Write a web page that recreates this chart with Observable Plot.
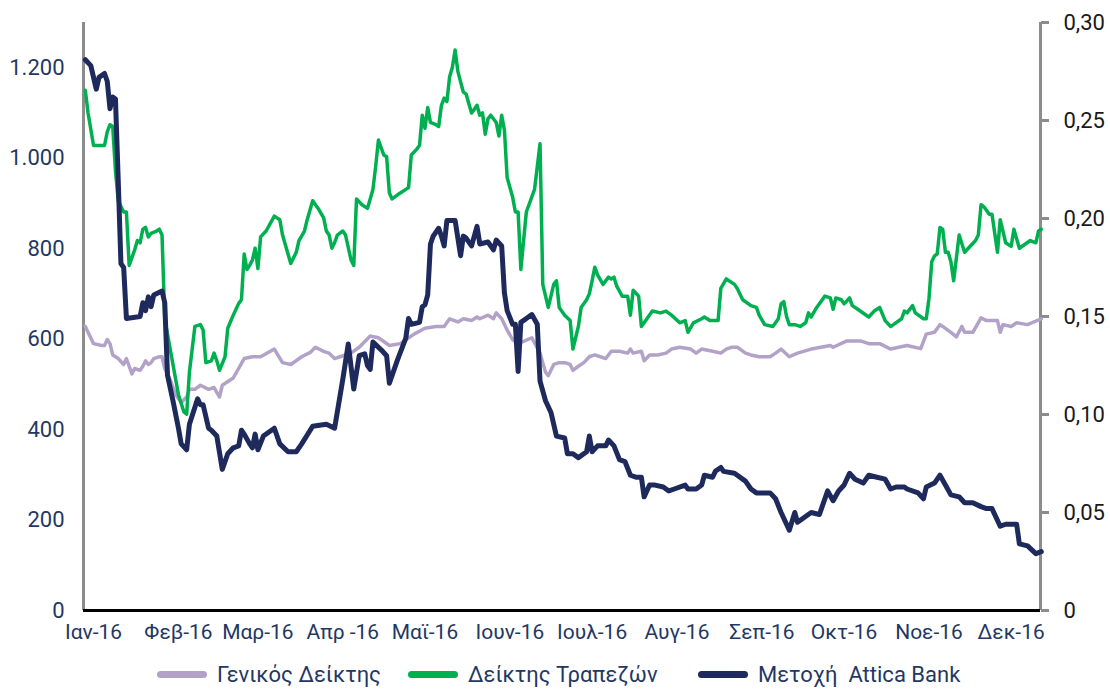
<!DOCTYPE html>
<html>
<head>
<meta charset="utf-8">
<script src="https://cdn.jsdelivr.net/npm/d3@7"></script>
<script src="https://cdn.jsdelivr.net/npm/@observablehq/plot@0.6"></script>
<style>
  html, body { margin: 0; padding: 0; background: #fff; }
  #wrap { position: relative; width: 1110px; height: 689px; overflow: hidden; font-family: Roboto, "Noto Sans", sans-serif; }
  #legend { position: relative; width: 1110px; height: 33px; }
  .item { position: absolute; top: 6px; height: 26px; line-height: 26px; font-size: 22px; color: #1f3864; white-space: pre; }
  .sw { display: inline-block; width: 50px; height: 7px; border-radius: 4px; vertical-align: middle; margin-right: 10px; position: relative; top: -2px; }
</style>
</head>
<body>
<div id="wrap">
  <div id="chart"></div>
  <div id="legend"></div>
</div>
<script>
// Month tick labels (one per month of 2016)
const monthLabels = ["Ιαν-16","Φεβ-16","Μαρ-16","Απρ -16","Μαϊ-16","Ιουν-16","Ιουλ-16","Αυγ-16","Σεπ-16","Οκτ-16","Νοε-16","Δεκ-16"];
const seriesNames = ["Γενικός Δείκτης","Δείκτης Τραπεζών","Μετοχή  Attica Bank"];
const leftTicks = [0,200,400,600,800,1000,1200];
const rightTicks = [0,0.05,0.10,0.15,0.20,0.25,0.30];

// [day offset from 1 Jan 2016, value]
const generalIndex = [[-3,628],[-2,615],[0,590],[3,586],[4,586],[5,599],[6,590],[7,565],[9,557],[11,544],[12,557],[13,540],[14,523],[15,535],[17,531],[18,540],[19,552],[20,544],[21,548],[22,557],[24,561],[25,561],[26,535],[28,510],[30,477],[32,460],[34,472],[35,489],[37,489],[39,498],[42,489],[44,493],[46,472],[47,498],[51,514],[55,557],[58,561],[61,561],[66,578],[69,548],[72,544],[76,561],[79,570],[81,582],[84,573],[86,569],[88,557],[90,561],[94,569],[97,582],[101,607],[104,603],[108,586],[112,590],[117,611],[121,624],[125,628],[128,628],[130,645],[133,638],[135,645],[138,641],[140,649],[141,645],[144,653],[146,645],[147,658],[149,645],[151,620],[153,599],[155,590],[157,595],[160,603],[163,569],[165,527],[166,519],[168,544],[170,548],[172,548],[174,544],[175,531],[177,540],[179,548],[181,561],[183,565],[185,561],[187,557],[189,573],[192,573],[195,569],[196,578],[197,569],[200,573],[201,552],[203,565],[206,565],[209,569],[211,578],[214,582],[218,578],[220,569],[222,578],[226,573],[229,569],[231,578],[233,582],[235,582],[236,578],[238,569],[240,565],[243,561],[247,561],[249,569],[251,578],[254,561],[257,569],[262,578],[269,586],[270,582],[275,596],[280,596],[283,590],[287,590],[291,578],[297,586],[302,579],[304,611],[307,615],[309,632],[310,628],[313,615],[315,605],[317,628],[318,615],[321,615],[324,647],[326,641],[330,641],[331,615],[332,632],[335,628],[337,636],[341,632],[346,645]];

const bankIndex = [[-3,1150],[-2,1100],[0,1028],[4,1028],[5,1058],[6,1074],[7,1070],[8,973],[9,906],[11,881],[12,881],[13,763],[15,797],[16,818],[17,813],[18,843],[19,847],[20,826],[21,834],[23,839],[24,843],[25,830],[26,645],[29,544],[31,477],[33,439],[34,434],[35,527],[37,628],[39,632],[40,620],[41,548],[43,552],[44,569],[45,552],[46,531],[48,561],[49,624],[51,653],[53,679],[54,687],[55,788],[56,754],[57,763],[58,775],[59,801],[60,756],[61,826],[63,839],[66,872],[68,864],[69,830],[71,788],[72,767],[74,792],[75,818],[77,839],[78,864],[80,906],[82,889],[84,868],[85,839],[86,830],[87,801],[88,813],[89,830],[91,839],[92,830],[94,775],[95,763],[96,910],[98,897],[100,889],[102,931],[103,982],[104,1040],[105,1023],[106,1007],[107,1003],[108,923],[109,910],[111,919],[115,935],[116,1007],[118,1020],[119,1028],[120,1095],[121,1066],[122,1112],[123,1079],[125,1074],[126,1070],[127,1117],[128,1133],[129,1125],[130,1180],[131,1201],[132,1239],[133,1192],[135,1146],[136,1142],[138,1100],[139,1108],[140,1117],[141,1095],[142,1100],[143,1053],[144,1087],[145,1095],[147,1079],[148,1049],[149,1095],[150,1062],[151,957],[153,914],[154,881],[155,881],[156,754],[158,881],[161,931],[163,1032],[164,721],[166,670],[168,721],[169,729],[170,670],[172,653],[174,641],[175,578],[176,603],[177,628],[178,670],[180,687],[181,700],[182,729],[183,759],[184,742],[186,721],[188,737],[189,733],[190,737],[191,717],[193,695],[195,695],[196,653],[197,708],[199,695],[200,628],[201,636],[204,662],[207,658],[209,662],[211,653],[214,636],[216,641],[217,615],[219,636],[222,645],[223,649],[225,641],[228,641],[229,712],[231,733],[234,721],[235,712],[237,687],[240,674],[242,670],[243,653],[245,632],[248,628],[250,645],[251,678],[252,683],[253,650],[254,632],[256,632],[258,628],[260,636],[261,658],[262,649],[264,670],[267,695],[269,691],[270,666],[271,691],[273,687],[274,678],[276,691],[277,674],[279,666],[283,649],[285,662],[287,670],[289,641],[291,628],[292,632],[295,645],[296,662],[297,658],[299,674],[300,658],[303,645],[304,645],[305,690],[306,771],[307,784],[308,788],[309,847],[310,843],[311,792],[312,792],[313,771],[314,729],[316,830],[318,792],[322,818],[323,830],[324,897],[325,893],[327,876],[328,876],[330,792],[331,864],[333,813],[335,805],[336,843],[338,801],[342,818],[344,813],[345,839],[346,843]];

const atticaDays = [-3,-1,1,2,4,5,6,7,8,9,10,11,12,17,18,19,20,21,22,25,26,27,29,31,32,34,35,38,39,40,42,43,45,47,49,51,53,54,55,57,58,59,60,62,66,68,71,74,76,80,85,88,91,93,95,97,99,100,101,102,105,107,108,111,114,115,116,119,120,121,122,123,124,126,127,128,129,132,134,135,136,138,140,141,144,146,147,149,150,151,153,154,155,156,158,160,162,163,165,167,169,172,173,175,177,180,181,182,184,187,188,190,192,194,196,198,200,201,203,205,208,210,212,216,217,220,222,223,226,227,229,230,234,235,238,240,242,247,249,251,254,256,257,262,265,268,270,272,274,276,278,281,283,286,289,291,293,296,297,301,303,304,307,309,311,313,316,318,321,324,326,328,331,333,337,338,341,344,346];
const atticaValues = [0.281,0.278,0.266,0.272,0.274,0.270,0.256,0.262,0.261,0.220,0.177,0.175,0.149,0.150,0.157,0.153,0.160,0.155,0.161,0.163,0.157,0.120,0.107,0.093,0.085,0.082,0.095,0.108,0.105,0.105,0.093,0.092,0.089,0.072,0.080,0.083,0.084,0.092,0.090,0.085,0.083,0.090,0.082,0.089,0.093,0.085,0.081,0.081,0.085,0.094,0.095,0.093,0.118,0.136,0.113,0.130,0.131,0.125,0.123,0.137,0.133,0.130,0.116,0.128,0.139,0.149,0.146,0.147,0.155,0.156,0.161,0.187,0.191,0.195,0.191,0.186,0.199,0.199,0.181,0.191,0.190,0.186,0.196,0.187,0.188,0.184,0.189,0.186,0.162,0.153,0.146,0.146,0.122,0.147,0.149,0.151,0.146,0.117,0.107,0.101,0.089,0.088,0.080,0.080,0.078,0.081,0.089,0.081,0.084,0.084,0.087,0.084,0.077,0.076,0.069,0.068,0.068,0.058,0.064,0.064,0.063,0.061,0.062,0.064,0.062,0.062,0.064,0.069,0.068,0.071,0.073,0.071,0.070,0.069,0.066,0.062,0.060,0.060,0.057,0.050,0.041,0.050,0.045,0.050,0.049,0.061,0.056,0.061,0.064,0.070,0.067,0.065,0.069,0.068,0.067,0.062,0.063,0.063,0.062,0.060,0.057,0.063,0.065,0.069,0.064,0.059,0.058,0.055,0.055,0.053,0.052,0.052,0.043,0.044,0.044,0.034,0.033,0.029,0.030];

const colors = ["#b3a2c7", "#00b050", "#1f2a5c"];
const LEFT_MAX = 1300, RIGHT_MAX = 0.30, k = LEFT_MAX / RIGHT_MAX;

const base = new Date(2016, 0, 1);
const toDate = d => d3.timeDay.offset(base, d);
const general = generalIndex.map(([d, v]) => ({date: toDate(d), value: v}));
const banks = bankIndex.map(([d, v]) => ({date: toDate(d), value: v}));
const attica = atticaDays.map((d, i) => ({date: toDate(d), value: atticaValues[i] * k}));
const monthDates = monthLabels.map((_, i) => new Date(2016, i, 1));

const loc = d3.formatLocale({decimal: ",", thousands: ".", grouping: [3], currency: ["", "€"]});
const fmtLeft = loc.format(",");
const fmtRight = v => v === 0 ? "0" : loc.format(".2f")(v);

const xStart = new Date(2015, 11, 28, 8), xEnd = new Date(2016, 11, 11, 17);

const chart = Plot.plot({
  width: 1110,
  height: 656,
  marginLeft: 83,
  marginRight: 70,
  marginTop: 22,
  marginBottom: 46,
  style: {fontFamily: "Roboto, 'Noto Sans', sans-serif", background: "#fff", overflow: "visible"},
  x: {type: "time", domain: [xStart, xEnd]},
  y: {domain: [0, LEFT_MAX]},
  marks: [
    Plot.axisY(leftTicks, {anchor: "left", tickSize: 0, tickPadding: 19, tickFormat: fmtLeft, fill: "#1f3864", fontSize: 22, label: null}),
    Plot.axisY(rightTicks.map(v => v * k), {anchor: "right", tickSize: 8, stroke: "#8c8c8c", strokeWidth: 3, tickFormat: () => "", label: null}),
    Plot.axisY(rightTicks.map(v => v * k), {anchor: "right", tickSize: 0, tickPadding: 23, tickFormat: v => fmtRight(Math.round(v / k * 100) / 100), fill: "#1a1a1a", fontSize: 22, label: null}),
    Plot.axisX(monthDates, {tickSize: 0, tickPadding: 14, tickFormat: d => monthLabels[d.getMonth()], fill: "#1f3864", fontSize: 21, label: null}),
    Plot.ruleX([xStart], {stroke: "#8c8c8c", strokeWidth: 3}),
    Plot.ruleX([xEnd], {stroke: "#8c8c8c", strokeWidth: 3}),
    Plot.line(general, {x: "date", y: "value", stroke: colors[0], strokeWidth: 3.5, strokeLinejoin: "round"}),
    Plot.line(banks, {x: "date", y: "value", stroke: colors[1], strokeWidth: 3.5, strokeLinejoin: "round"}),
    Plot.line(attica, {x: "date", y: "value", stroke: colors[2], strokeWidth: 5, strokeLinejoin: "round", strokeLinecap: "round"}),
    Plot.ruleY([0], {stroke: "#000", strokeWidth: 3})
  ]
});
document.getElementById("chart").appendChild(chart);

const legendLeft = [157, 408, 698];
const legend = document.getElementById("legend");
seriesNames.forEach((name, i) => {
  const item = document.createElement("div");
  item.className = "item";
  item.style.left = legendLeft[i] + "px";
  const sw = document.createElement("span");
  sw.className = "sw";
  sw.style.background = colors[i];
  item.appendChild(sw);
  item.appendChild(document.createTextNode(name));
  legend.appendChild(item);
});
</script>
</body>
</html>
